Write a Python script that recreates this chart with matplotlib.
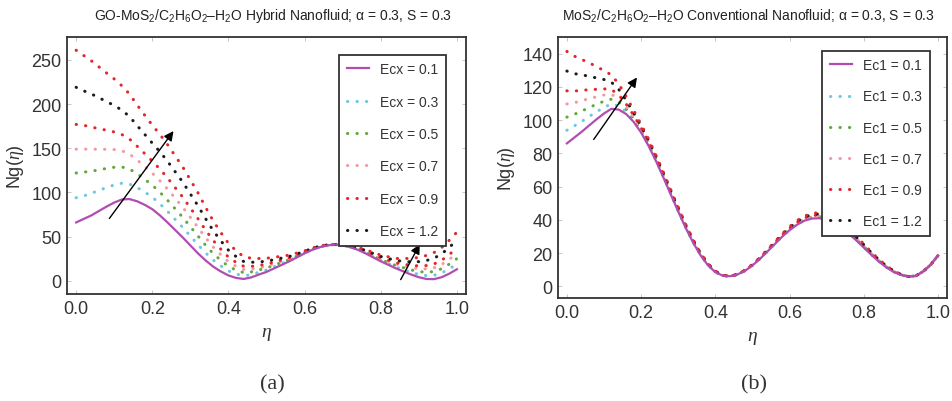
import numpy as np
import matplotlib
matplotlib.use("Agg")
import matplotlib.pyplot as plt

plt.rcParams['font.family'] = ['Liberation Sans', 'DejaVu Sans']
plt.rcParams['mathtext.fontset'] = 'custom'
plt.rcParams['mathtext.rm'] = 'Liberation Sans'
plt.rcParams['mathtext.it'] = 'Liberation Serif:italic'

# eta grid, values read every 0.02 from the picture
eta = [0.00, 0.02, 0.04, 0.06, 0.08, 0.10, 0.12, 0.14, 0.16, 0.18, 0.20, 0.22, 0.24,
       0.26, 0.28, 0.30, 0.32, 0.34, 0.36, 0.38, 0.40, 0.42, 0.44, 0.46, 0.48, 0.50,
       0.52, 0.54, 0.56, 0.58, 0.60, 0.62, 0.64, 0.66, 0.68, 0.70, 0.72, 0.74, 0.76,
       0.78, 0.80, 0.82, 0.84, 0.86, 0.88, 0.90, 0.92, 0.94, 0.96, 0.98, 1.00]

# (a) GO-MoS2 hybrid nanofluid, Ecx (last curve has no legend entry)
ecx_labels = ['Ecx = 0.1', 'Ecx = 0.3', 'Ecx = 0.5', 'Ecx = 0.7', 'Ecx = 0.9', 'Ecx = 1.2', None]
ng_a_01 = [66, 70, 74, 79, 84, 88.5, 92, 92.5, 90, 86, 81, 74, 66, 57.5, 49, 40, 31, 23, 16, 10.5,
           6, 3.2, 2, 3.8, 7, 10, 14, 18, 22, 26.5, 31, 35, 38, 40, 41, 40, 38, 35, 31, 26.5,
           22, 18, 14, 10.5, 7, 4, 2, 1.8, 4, 8, 13]
ng_a_03 = [94, 96, 99, 102.3, 105.6, 108.5, 110.4, 109.5, 105.6, 100.5, 94.6, 87.1, 78.6, 69.5,
           60.4, 50.6, 40.8, 31.6, 23.4, 16.8, 11.2, 7.6, 5.6, 6.9, 9.6, 12.2, 15.8, 19.4, 23,
           27.2, 31.4, 35.3, 38.2, 40.1, 41, 40.1, 38.2, 35.4, 31.6, 27.3, 23, 19.3, 15.6, 12.6,
           9.6, 7.2, 5.8, 6.1, 8.8, 13.4, 19]
ng_a_05 = [122, 123, 124, 125.6, 127.2, 128.5, 128.8, 126.5, 121.2, 115, 108.2, 100.2, 91.2, 81.5,
           71.8, 61.2, 50.6, 40.2, 30.8, 23.1, 16.4, 12, 9.2, 10, 12.2, 14.4, 17.6, 20.8, 24,
           27.9, 31.8, 35.6, 38.4, 40.2, 41, 40.2, 38.4, 35.8, 32.2, 28.1, 24, 20.6, 17.2, 14.7,
           12.2, 10.4, 9.6, 10.4, 13.6, 18.8, 25]
ng_a_07 = [149, 149, 149, 148.9, 148.8, 148.5, 147.2, 143.5, 136.8, 129.5, 121.8, 113.3, 103.8,
           93.5, 83.2, 71.8, 60.4, 48.8, 38.2, 29.4, 21.6, 16.4, 12.8, 13.1, 14.8, 16.6, 19.4,
           22.2, 25, 28.6, 32.2, 35.9, 38.6, 40.3, 41, 40.3, 38.6, 36.2, 32.8, 28.9, 25, 21.9,
           18.8, 16.8, 14.8, 13.6, 13.4, 14.7, 18.4, 24.2, 31]
ng_a_09 = [177, 176, 174, 172.2, 170.4, 168.5, 165.6, 160.5, 152.4, 144, 135.4, 126.4, 116.4,
           105.5, 94.6, 82.4, 70.2, 57.4, 45.6, 35.7, 26.8, 20.8, 16.4, 16.2, 17.4, 18.8, 21.2,
           23.6, 26, 29.3, 32.6, 36.2, 38.8, 40.4, 41, 40.4, 38.8, 36.6, 33.4, 29.7, 26, 23.2,
           20.4, 18.9, 17.4, 16.8, 17.2, 19, 23.2, 29.6, 37]
ng_a_12 = [219, 215, 211.5, 207.2, 202.8, 198.5, 193.2, 186, 175.8, 165.8, 155.8, 146.1, 135.3,
           123.5, 111.7, 98.3, 84.9, 70.3, 56.7, 45.2, 34.6, 27.4, 21.8, 20.9, 21.3, 22.1, 23.9,
           25.7, 27.5, 30.4, 33.2, 36.7, 39.1, 40.6, 41, 40.6, 39.1, 37.2, 34.3, 30.9, 27.5,
           25.2, 22.8, 22.1, 21.3, 21.6, 22.9, 25.5, 30.4, 37.7, 46]
ng_a_15 = [261, 255, 249, 242.1, 235.2, 228.5, 220.8, 211.5, 199.2, 187.5, 176.2, 165.7, 154.2,
           141.5, 128.8, 114.2, 99.6, 83.2, 67.8, 54.6, 42.4, 34, 27.2, 25.5, 25.2, 25.4, 26.6,
           27.8, 29, 31.4, 33.8, 37.1, 39.4, 40.7, 41, 40.7, 39.4, 37.8, 35.2, 32.1, 29, 27.1,
           25.2, 25.2, 25.2, 26.4, 28.6, 31.9, 37.6, 45.8, 55]

# (b) MoS2 conventional nanofluid, Ec1 (last curve has no legend entry)
ec1_labels = ['Ec1 = 0.1', 'Ec1 = 0.3', 'Ec1 = 0.5', 'Ec1 = 0.7', 'Ec1 = 0.9', 'Ec1 = 1.2', None]
ng_b_01 = [86, 89.5, 93, 96.8, 100.5, 104, 106.8, 106.3, 103.6, 98.9, 92.5, 84.5, 75.4, 65.5,
           55.2, 45, 35.2, 26.4, 18.7, 12.7, 8.5, 6.4, 6.1, 7.2, 9.4, 12.6, 16.5, 20.9, 25.4,
           29.9, 33.8, 37.1, 39.5, 40.8, 41, 40, 38, 35.2, 31.6, 27.6, 23.3, 19, 15, 11.5, 8.7,
           6.9, 5.9, 6.3, 9, 13, 18.6]
ng_b_03 = [93.9, 96.5, 99.2, 102.2, 105, 107.7, 109.7, 108.5, 105.1, 99.9, 93.2, 85.1, 75.9,
           65.9, 55.6, 45.4, 35.5, 26.6, 18.9, 12.8, 8.6, 6.4, 6.1, 7.2, 9.5, 12.7, 16.6, 21.1,
           25.6, 30.1, 34.1, 37.5, 39.9, 41.2, 41.5, 40.5, 38.5, 35.6, 32, 28, 23.6, 19.2, 15.2,
           11.6, 8.8, 6.9, 5.9, 6.3, 9, 13, 18.6]
ng_b_05 = [101.8, 103.5, 105.4, 107.6, 109.5, 111.4, 112.6, 110.7, 106.6, 100.9, 93.9, 85.7,
           76.4, 66.4, 56, 45.7, 35.8, 26.9, 19.1, 13, 8.7, 6.5, 6.1, 7.2, 9.5, 12.8, 16.7, 21.2,
           25.8, 30.4, 34.4, 37.8, 40.3, 41.7, 42, 41, 39, 36.1, 32.4, 28.3, 23.9, 19.5, 15.4,
           11.8, 8.9, 7, 5.9, 6.3, 9, 13, 18.6]
ng_b_07 = [109.7, 110.5, 111.6, 113, 114, 115.1, 115.5, 112.9, 108.1, 101.9, 94.6, 86.3, 76.9,
           66.8, 56.4, 46.1, 36.1, 27.1, 19.3, 13.1, 8.8, 6.5, 6.1, 7.3, 9.6, 12.8, 16.9, 21.4,
           26, 30.6, 34.7, 38.2, 40.7, 42.1, 42.4, 41.4, 39.4, 36.5, 32.8, 28.7, 24.2, 19.7, 15.6,
           11.9, 9, 7, 5.9, 6.3, 9, 13, 18.6]
ng_b_09 = [117.6, 117.5, 117.8, 118.4, 118.5, 118.8, 118.4, 115.1, 109.6, 102.9, 95.3, 86.9,
           77.4, 67.3, 56.8, 46.4, 36.4, 27.4, 19.5, 13.3, 8.9, 6.6, 6.1, 7.3, 9.6, 12.9, 17,
           21.5, 26.2, 30.9, 35, 38.5, 41.1, 42.6, 42.9, 41.9, 39.9, 37, 33.2, 29, 24.5, 20, 15.8,
           12.1, 9.1, 7.1, 5.9, 6.3, 9, 13, 18.6]
ng_b_12 = [129.5, 128, 127.1, 126.5, 125.3, 124.4, 122.8, 118.4, 111.9, 104.4, 96.4, 87.8, 78.2,
           67.9, 57.4, 47, 36.9, 27.7, 19.8, 13.5, 9.1, 6.6, 6.1, 7.3, 9.7, 13, 17.2, 21.8, 26.5,
           31.2, 35.5, 39.1, 41.7, 43.2, 43.6, 42.6, 40.6, 37.6, 33.8, 29.6, 25, 20.3, 16.1,
           12.3, 9.3, 7.1, 5.9, 6.3, 9, 13, 18.6]
ng_b_15 = [141.3, 138.5, 136.4, 134.6, 132, 129.9, 127.1, 121.7, 114.1, 105.9, 97.4, 88.7, 78.9,
           68.6, 58, 47.5, 37.3, 28.1, 20.1, 13.7, 9.2, 6.7, 6.1, 7.3, 9.8, 13.2, 17.3, 22, 26.8,
           31.6, 35.9, 39.6, 42.3, 43.9, 44.4, 43.4, 41.4, 38.3, 34.4, 30.1, 25.4, 20.7, 16.4,
           12.5, 9.4, 7.2, 5.9, 6.3, 9, 13, 18.6]

colors = ['#b24cb2', '#6cc8dc', '#62a83e', '#f29aa2', '#e4262b', '#1c1c1c', '#e4262b']

fig = plt.figure(figsize=(9.53, 4.02), dpi=100)
ax1 = fig.add_axes([0.0703, 0.2662, 0.4187, 0.6393])
ax2 = fig.add_axes([0.5855, 0.2562, 0.4082, 0.6493])


def draw_panel(ax, curves, labels, ylim, yticks):
    for i, (ng, lab) in enumerate(zip(curves, labels)):
        if i == 0:
            ax.plot(eta, ng, color=colors[i], lw=1.6, label=lab, zorder=3)
        else:
            ax.plot(eta, ng, color=colors[i], lw=2.2, linestyle=(0, (0.1, 3.0)),
                    dash_capstyle='round', label=lab, zorder=2)
    ax.set_xlim(-0.024, 1.024)
    ax.set_ylim(*ylim)
    ax.set_xticks([0.0, 0.2, 0.4, 0.6, 0.8, 1.0])
    ax.set_xticklabels(['0.0', '0.2', '0.4', '0.6', '0.8', '1.0'])
    ax.set_yticks(yticks)
    ax.tick_params(direction='in', length=3, width=0.6, color='#bbbbbb', labelsize=13,
                   labelcolor='#333333', top=True, right=True, pad=4)
    for s in ax.spines.values():
        s.set_linewidth(1.3)
        s.set_color('#333333')
    ax.set_xlabel(r'$\eta$', fontsize=14, color='#333333', labelpad=6)
    ax.set_ylabel(r'Ng($\eta$)', fontsize=13, color='#333333', labelpad=4)
    h, l = ax.get_legend_handles_labels()
    return h[:6], l[:6]


h1, l1 = draw_panel(ax1, [ng_a_01, ng_a_03, ng_a_05, ng_a_07, ng_a_09, ng_a_12, ng_a_15],
                    ecx_labels, (-15, 276), [0, 50, 100, 150, 200, 250])
h2, l2 = draw_panel(ax2, [ng_b_01, ng_b_03, ng_b_05, ng_b_07, ng_b_09, ng_b_12, ng_b_15],
                    ec1_labels, (-7, 150), [0, 20, 40, 60, 80, 100, 120, 140])

for ax, h, l, anchor, sp in [(ax1, h1, l1, (0.950, 0.931), 1.32),
                             (ax2, h2, l2, (0.956, 0.948), 1.24)]:
    leg = ax.legend(h, l, loc='upper right', bbox_to_anchor=anchor, fontsize=10,
                    labelspacing=sp, handlelength=1.6, handletextpad=0.8,
                    borderpad=0.55, borderaxespad=0, fancybox=False, framealpha=1,
                    edgecolor='#333333')
    leg.get_frame().set_linewidth(1.3)
    for t in leg.get_texts():
        t.set_color('#333333')

arrow = dict(arrowstyle='-|>', color='black', lw=1.0, mutation_scale=14)
ax1.annotate('', xy=(0.26, 172), xytext=(0.083, 68), arrowprops=arrow)
ax1.annotate('', xy=(0.906, 44), xytext=(0.849, -1.5), arrowprops=arrow)
ax2.annotate('', xy=(0.193, 127), xytext=(0.068, 87), arrowprops=arrow)

fig.text(273 / 953, 1 - 16 / 402,
         r'GO-MoS$_2$/C$_2$H$_6$O$_2$–H$_2$O Hybrid Nanofluid; α = 0.3, S = 0.3',
         ha='center', va='center', fontsize=10, color='#222222')
fig.text(748 / 953, 1 - 16 / 402,
         r'MoS$_2$/C$_2$H$_6$O$_2$–H$_2$O Conventional Nanofluid; α = 0.3, S = 0.3',
         ha='center', va='center', fontsize=10, color='#222222')
fig.text(272 / 953, 1 - 385 / 402, '(a)', ha='center', va='center', fontsize=16,
         family='Liberation Serif', color='#333333')
fig.text(754 / 953, 1 - 385 / 402, '(b)', ha='center', va='center', fontsize=16,
         family='Liberation Serif', color='#333333')

fig.savefig('out.png', dpi=100)
